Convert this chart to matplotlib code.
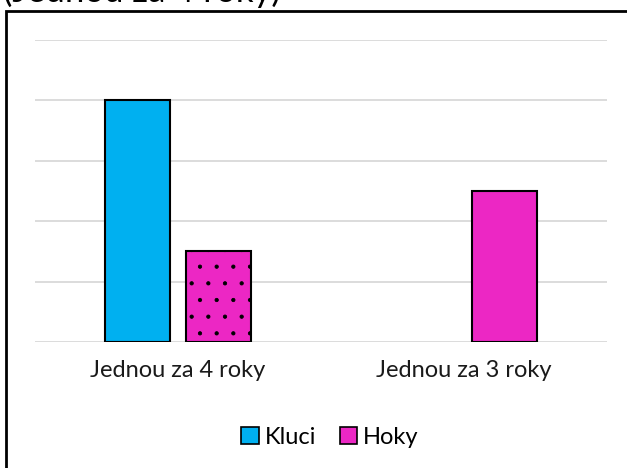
import matplotlib.pyplot as plt
from matplotlib.patches import Rectangle
import numpy as np

# --- Data ---
categories = ["Jednou za 4 roky", "Jednou za 3 roky"]
kluci = [4.0, 0.0]
hoky = [1.5, 2.5]
title = "(Jednou za 4 roky)"

plt.rcParams['font.family'] = ['Lato', 'DejaVu Sans']
plt.rcParams['hatch.linewidth'] = 0.6

fig = plt.figure(figsize=(6.27, 4.68), dpi=100)
ax = fig.add_axes([35 / 627, 1 - 342 / 468, 572 / 627, 302 / 468])

x = np.arange(len(categories))
width = 0.227
off = 0.1416

kb = ax.bar(x - off, kluci, width, color='#00B0F0', edgecolor='black',
            linewidth=1.5, label='Kluci', zorder=3)
hb = ax.bar(x + off, hoky, width, color='#EC27C4', edgecolor='black',
            linewidth=1.5, label='Hoky', zorder=3)
# zero-height bars are not drawn at all
for b in list(kb) + list(hb):
    if b.get_height() == 0:
        b.set_visible(False)
# dotted fill only on the first pink bar
hb[0].set_hatch('.')

ax.set_xlim(-0.5, 1.5)
ax.set_ylim(0, 5)
ax.set_yticks([0, 1, 2, 3, 4, 5])
ax.set_yticklabels([])
ax.grid(axis='y', color='#D9D9D9', linewidth=1.3, zorder=0)
ax.set_xticks(x)
ax.set_xticklabels(categories, fontsize=17, color='#1a1a1a')
ax.tick_params(axis='both', length=0, pad=13)
for s in ax.spines.values():
    s.set_visible(False)

# legend without hatch on the Hoky key
leg_handles = [Rectangle((0, 0), 1, 1, facecolor='#00B0F0', edgecolor='black', linewidth=1.2),
               Rectangle((0, 0), 1, 1, facecolor='#EC27C4', edgecolor='black', linewidth=1.2)]
fig.legend(leg_handles, ['Kluci', 'Hoky'], loc='center', bbox_to_anchor=(330 / 627, 1 - 437 / 468),
           ncol=2, frameon=False, fontsize=17, handlelength=0.75, handleheight=0.75,
           handletextpad=0.25, columnspacing=1.0)

# outer chart border (cut off at right and bottom)
fig.patches.append(Rectangle((6 / 627, -0.1), 1.2, (468 - 11) / 468 + 0.1,
                             transform=fig.transFigure, fill=False,
                             edgecolor='black', linewidth=2, zorder=5))

# title clipped at the top edge
fig.text(3 / 627, 1 - 1.5 / 468, title, fontsize=25, va='baseline', ha='left', color='black')

fig.savefig('out.png', dpi=100)
